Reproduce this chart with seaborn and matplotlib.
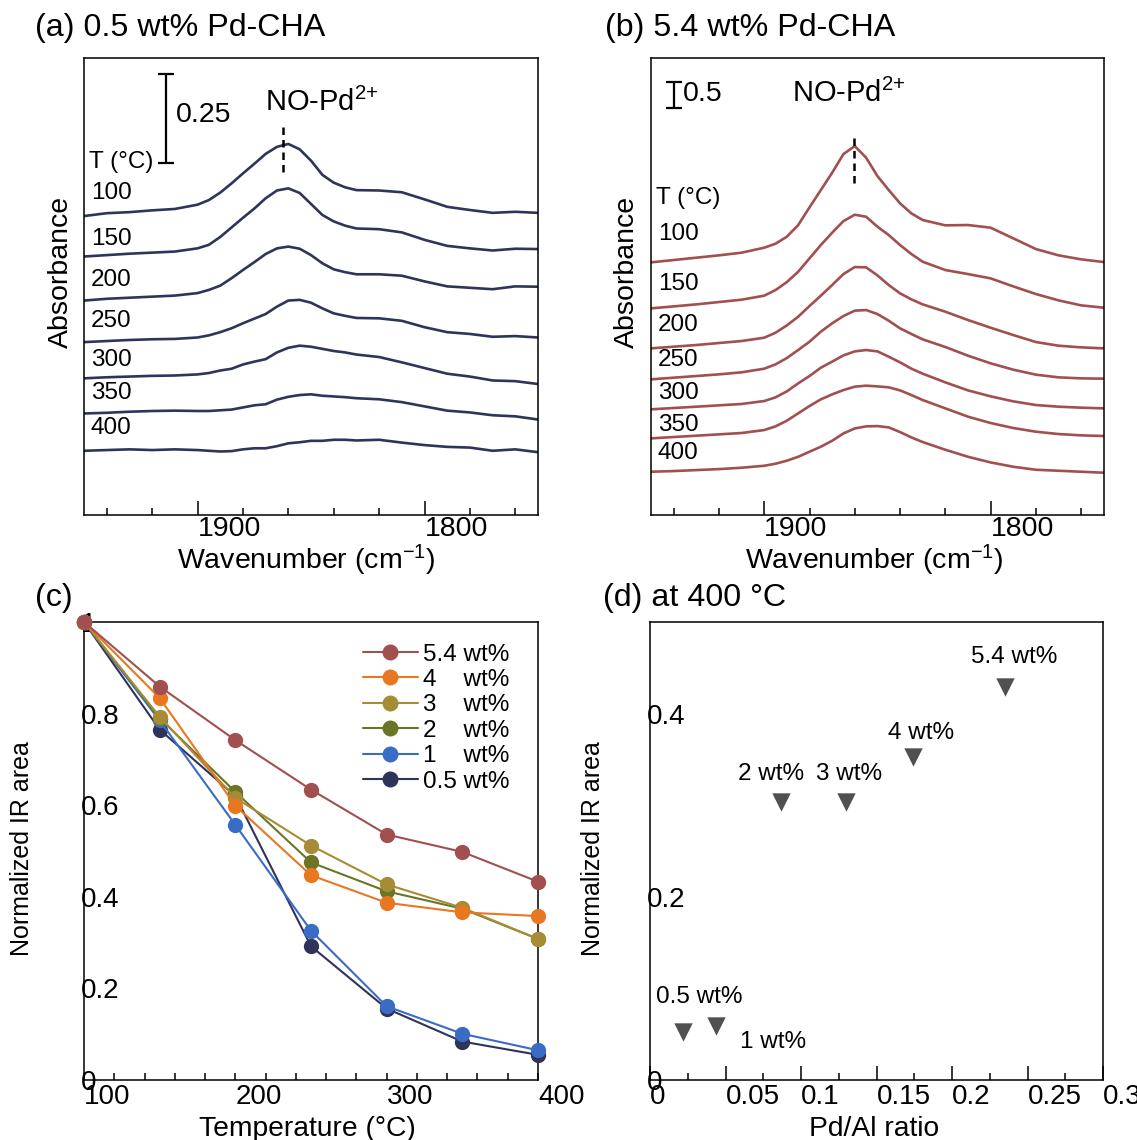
import pandas as pd
import seaborn as sns
import matplotlib.pyplot as plt
from matplotlib.lines import Line2D
from matplotlib.ticker import FixedLocator, MultipleLocator

sns.set_style('ticks')
plt.rcParams['font.family'] = ['Liberation Sans', 'DejaVu Sans']
plt.rcParams['mathtext.fontset'] = 'custom'
plt.rcParams['mathtext.rm'] = 'Liberation Sans'
plt.rcParams['mathtext.it'] = 'Liberation Sans:italic'
plt.rcParams['axes.edgecolor'] = 'black'
plt.rcParams['axes.linewidth'] = 1.1
plt.rcParams['text.color'] = 'black'
plt.rcParams['axes.labelcolor'] = 'black'
plt.rcParams['xtick.color'] = 'black'
plt.rcParams['ytick.color'] = 'black'

# ---- data -------------------------------------------------------------
temps = [100, 150, 200, 250, 300, 350, 400]
wavenumber = [1950, 1940, 1930, 1920, 1910, 1900, 1895, 1890, 1885, 1880, 1875, 1870, 1865, 1860,
              1855, 1850, 1845, 1840, 1835, 1830, 1820, 1810, 1800, 1790, 1780, 1770, 1760, 1750]

# (a) 0.5 wt% Pd-CHA, absorbance relative to the left end of each trace
a_100 = [0, .008, .011, .016, .020, .032, .045, .066, .092, .120, .147, .175, .195, .203,
         .188, .156, .116, .094, .081, .073, .072, .067, .047, .026, .017, .009, .012, .009]
a_150 = [0, .004, .008, .011, .014, .023, .033, .055, .082, .109, .135, .164, .186, .192,
         .179, .148, .117, .099, .087, .079, .077, .068, .047, .030, .023, .017, .022, .021]
a_200 = [0, .005, .008, .011, .014, .021, .030, .042, .063, .086, .108, .131, .147, .152,
         .146, .128, .105, .088, .080, .074, .074, .070, .054, .040, .036, .032, .040, .039]
a_250 = [0, .003, .006, .008, .009, .013, .019, .028, .039, .053, .066, .079, .100, .117,
         .119, .111, .095, .081, .074, .068, .067, .060, .042, .028, .023, .015, .017, .013]
a_300 = [0, .003, .005, .007, .008, .011, .015, .022, .027, .039, .047, .054, .073, .086,
         .092, .089, .083, .077, .073, .067, .060, .045, .029, .013, .005, -.006, -.008, -.016]
a_350 = [0, .002, .005, .007, .008, .007, .007, .009, .011, .017, .023, .026, .039, .047,
         .052, .054, .050, .048, .046, .043, .040, .032, .020, .008, .003, -.005, -.008, -.017]
a_400 = [0, .002, .004, .002, .004, .002, 0, -.002, -.001, .004, .007, .007, .013, .021,
         .024, .028, .028, .031, .031, .029, .031, .023, .016, .011, .009, 0, .004, -.004]
a_offset = [0.842, 0.728, 0.604, 0.487, 0.385, 0.286, 0.181]

# (b) 5.4 wt% Pd-CHA
b_100 = [0, .045, .090, .135, .186, .282, .359, .494, .718, 1.058, 1.391, 1.724, 2.083, 2.237,
         2.013, 1.660, 1.391, 1.135, .942, .814, .712, .718, .667, .462, .256, .135, .058, .006]
b_150 = [0, .038, .077, .122, .167, .244, .353, .506, .705, .962, 1.218, 1.455, 1.679, 1.801,
         1.763, 1.571, 1.410, 1.218, 1.045, .897, .737, .660, .577, .423, .276, .154, .058, .013]
b_200 = [0, .032, .064, .103, .141, .205, .301, .442, .609, .814, 1.013, 1.218, 1.429, 1.564,
         1.558, 1.404, 1.218, 1.058, .942, .846, .705, .545, .397, .256, .122, .051, .019, 0]
b_250 = [0, .032, .064, .096, .135, .205, .288, .410, .564, .724, .917, 1.077, 1.218, 1.321,
         1.333, 1.256, 1.128, .981, .872, .769, .622, .455, .308, .186, .090, .038, .019, .013]
b_300 = [0, .026, .051, .077, .103, .160, .231, .346, .500, .641, .801, .917, 1.038, 1.115,
         1.141, 1.115, 1.013, .904, .782, .686, .519, .365, .250, .154, .083, .051, .032, .019]
b_350 = [0, .026, .051, .077, .103, .160, .231, .340, .481, .622, .750, .846, .929, .994,
         1.013, 1.000, .981, .923, .833, .737, .577, .417, .295, .199, .128, .083, .058, .045]
b_400 = [0, .013, .032, .051, .077, .115, .154, .212, .288, .385, .481, .596, .737, .833,
         .872, .878, .853, .763, .660, .571, .423, .288, .179, .096, .038, .019, 0, -.019]
b_offset = [4.86, 3.975, 3.206, 2.61, 2.033, 1.475, 0.833]

# (c) normalized IR area vs temperature
temperature = [100, 150, 200, 250, 300, 350, 400]
area_54 = [1.0, 0.859, 0.742, 0.634, 0.536, 0.498, 0.433]
area_4 = [1.0, 0.834, 0.599, 0.447, 0.387, 0.366, 0.358]
area_3 = [1.0, 0.793, 0.616, 0.512, 0.427, 0.376, 0.308]
area_2 = [1.0, 0.790, 0.629, 0.475, 0.412, 0.374, 0.308]
area_1 = [1.0, 0.785, 0.557, 0.326, 0.161, 0.101, 0.065]
area_05 = [1.0, 0.765, 0.620, 0.292, 0.156, 0.084, 0.055]
samples = ['5.4 wt%', '4    wt%', '3    wt%', '2    wt%', '1    wt%', '0.5 wt%']
sample_colors = ['#A24F4F', '#E87722', '#A58C35', '#6B7427', '#3A6CC6', '#2E3358']

# (d) area at 400 C vs Pd/Al ratio
pd_al_ratio = [0.022, 0.044, 0.087, 0.130, 0.174, 0.235]
area_400 = [0.052, 0.059, 0.303, 0.303, 0.353, 0.429]
point_labels = ['0.5 wt%', '1 wt%', '2 wt%', '3 wt%', '4 wt%', '5.4 wt%']
point_label_xy = [(0.004, 0.0906), (0.0596, 0.0415), (0.0583, 0.3341), (0.110, 0.3341),
                  (0.1576, 0.3788), (0.2126, 0.4618)]

# ---- figure -----------------------------------------------------------
fig = plt.figure(figsize=(11.37, 11.40), dpi=100)
ax_a = fig.add_axes([0.0739, 0.5482, 0.3993, 0.4009])
ax_b = fig.add_axes([0.5726, 0.5482, 0.3982, 0.4009])
ax_c = fig.add_axes([0.0739, 0.0526, 0.3993, 0.4018])
ax_d = fig.add_axes([0.5717, 0.0526, 0.3984, 0.4018])


def spectra_panel(ax, spectra, offsets, color, ytop, t_label_y, temp_label_y):
    rows = []
    for t, rel, off in zip(temps, spectra, offsets):
        for w, v in zip(wavenumber, rel):
            rows.append({'wavenumber': w, 'absorbance': v + off, 'T': t})
    df = pd.DataFrame(rows)
    sns.lineplot(data=df, x='wavenumber', y='absorbance', units='T', estimator=None,
                 color=color, linewidth=1.9, ax=ax)
    ax.set_xlim(1950, 1750)
    ax.set_ylim(0, ytop)
    ax.set_yticks([])
    ax.xaxis.set_major_locator(FixedLocator([1900, 1800]))
    ax.xaxis.set_minor_locator(MultipleLocator(20))
    ax.tick_params(axis='x', which='major', direction='in', length=10, width=1.1,
                   labelsize=20.5, pad=1)
    ax.tick_params(axis='x', which='minor', direction='in', length=5, width=1.1)
    for lbl in ax.get_xticklabels():
        lbl.set_ha('left')
    ax.set_xlabel('Wavenumber (cm$^{-1}$)', fontsize=20.5, va='baseline')
    ax.set_ylabel('Absorbance', fontsize=20.5, va='center')
    ax.text(1948, t_label_y, 'T (°C)', fontsize=17.5, ha='left', va='center')
    for t, y in zip(temps, temp_label_y):
        ax.text(1947, y, str(t), fontsize=17.5, ha='left', va='center')


spectra_panel(ax_a, [a_100, a_150, a_200, a_250, a_300, a_350, a_400], a_offset,
              '#2F3559', 1.287, 0.994, [0.907, 0.777, 0.662, 0.547, 0.437, 0.343, 0.244])
ax_a.xaxis.set_label_coords(0.489, -0.119)
ax_a.yaxis.set_label_coords(-0.051, 0.531)
ax_a.errorbar([1914], [1.117], yerr=[0.125], fmt='none', ecolor='black',
              elinewidth=1.6, capsize=5.8, capthick=1.6)
ax_a.text(1909.5, 1.127, '0.25', fontsize=20.5, ha='left', va='center')
ax_a.text(1870.3, 1.138, 'NO-Pd$^{2{+}}$', fontsize=21, ha='left', va='baseline')
ax_a.plot([1862.3, 1862.3], [0.967, 1.099], color='black', lw=1.8, ls=(0, (3, 2)))

spectra_panel(ax_b, [b_100, b_150, b_200, b_250, b_300, b_350, b_400], b_offset,
              '#A24F4F', 8.79, 6.09, [5.404, 4.442, 3.654, 2.981, 2.34, 1.731, 1.198])
ax_b.xaxis.set_label_coords(0.4926, -0.119)
ax_b.yaxis.set_label_coords(-0.054, 0.531)
ax_b.errorbar([1940], [8.07], yerr=[0.25], fmt='none', ecolor='black',
              elinewidth=1.6, capsize=5.8, capthick=1.6)
ax_b.text(1936, 8.10, '0.5', fontsize=20.5, ha='left', va='center')
ax_b.text(1887.7, 7.95, 'NO-Pd$^{2{+}}$', fontsize=21, ha='left', va='baseline')
ax_b.plot([1860.3, 1860.3], [6.39, 7.34], color='black', lw=1.8, ls=(0, (3, 2)))

# (c)
series = [area_54, area_4, area_3, area_2, area_1, area_05]
df_c = pd.DataFrame([{'temperature': t, 'area': v, 'sample': s}
                     for s, vals in zip(samples, series)
                     for t, v in zip(temperature, vals)])
plot_order = samples[::-1]
palette = dict(zip(samples, sample_colors))
sns.lineplot(data=df_c, x='temperature', y='area', hue='sample', hue_order=plot_order,
             palette=palette, marker='o', markersize=11, markeredgewidth=0,
             linewidth=1.5, estimator=None, legend=False, ax=ax_c)
for ln in ax_c.lines:
    ln.set_clip_on(False)
    ln.set_zorder(3)
handles = [Line2D([], [], color=c, marker='o', markersize=11.5, markeredgewidth=0, lw=1.5)
           for c in sample_colors]
ax_c.legend(handles, samples, loc='upper left', bbox_to_anchor=(0.6145, 0.953),
            frameon=False, borderpad=0, borderaxespad=0, handlelength=2.25,
            handletextpad=0.2, labelspacing=0.14, fontsize=17.5)
ax_c.set_xlim(100, 400)
ax_c.set_ylim(0, 1)
ax_c.xaxis.set_major_locator(FixedLocator([100, 200, 300, 400]))
ax_c.xaxis.set_minor_locator(MultipleLocator(20))
ax_c.set_yticks([0, 0.2, 0.4, 0.6, 0.8, 1.0], ['0', '0.2', '0.4', '0.6', '0.8', '1'])
ax_c.tick_params(axis='x', which='both', direction='in', length=5, width=1.1,
                 labelsize=20, pad=2.5)
ax_c.tick_params(axis='y', length=0, labelsize=20, pad=2)
for lbl in ax_c.get_xticklabels() + ax_c.get_yticklabels():
    lbl.set_ha('left')
ax_c.set_xlabel('Temperature (°C)', fontsize=20.3, va='baseline')
ax_c.set_ylabel('Normalized IR area', fontsize=18, va='center')
ax_c.xaxis.set_label_coords(0.491, -0.122)
ax_c.yaxis.set_label_coords(-0.136, 0.505)

# (d)
sns.scatterplot(x=pd_al_ratio, y=area_400, marker='v', s=175, color='#505050',
                linewidth=0, ax=ax_d, zorder=3)
for lab, (x, y) in zip(point_labels, point_label_xy):
    ax_d.text(x, y, lab, fontsize=17.5, ha='left', va='center')
ax_d.set_xlim(0, 0.3)
ax_d.set_ylim(0, 0.5)
ax_d.set_xticks([0, 0.05, 0.1, 0.15, 0.2, 0.25, 0.3],
                ['0', '0.05', '0.1', '0.15', '0.2', '0.25', '0.3'])
ax_d.xaxis.set_minor_locator(MultipleLocator(0.025))
ax_d.set_yticks([0, 0.2, 0.4], ['0', '0.2', '0.4'])
ax_d.tick_params(axis='x', which='major', direction='in', length=10, width=1.1,
                 labelsize=20, pad=2.5)
ax_d.tick_params(axis='x', which='minor', direction='in', length=5, width=1.1)
ax_d.tick_params(axis='y', length=0, labelsize=20, pad=2)
for lbl in ax_d.get_xticklabels() + ax_d.get_yticklabels():
    lbl.set_ha('left')
ax_d.set_xlabel('Pd/Al ratio', fontsize=20.3, va='baseline')
ax_d.set_ylabel('Normalized IR area', fontsize=18, va='center')
ax_d.xaxis.set_label_coords(0.4945, -0.122)
ax_d.yaxis.set_label_coords(-0.125, 0.505)

# panel titles
fig.text(35 / 1137, 1 - 28 / 1140, '(a) 0.5 wt% Pd-CHA', fontsize=23.2, va='center')
fig.text(605 / 1137, 1 - 28 / 1140, '(b) 5.4 wt% Pd-CHA', fontsize=23.2, va='center')
fig.text(35 / 1137, 1 - 598 / 1140, '(c)', fontsize=23.2, va='center')
fig.text(603 / 1137, 1 - 598 / 1140, '(d) at 400 °C', fontsize=23.2, va='center')

fig.savefig('out.png', dpi=100)
